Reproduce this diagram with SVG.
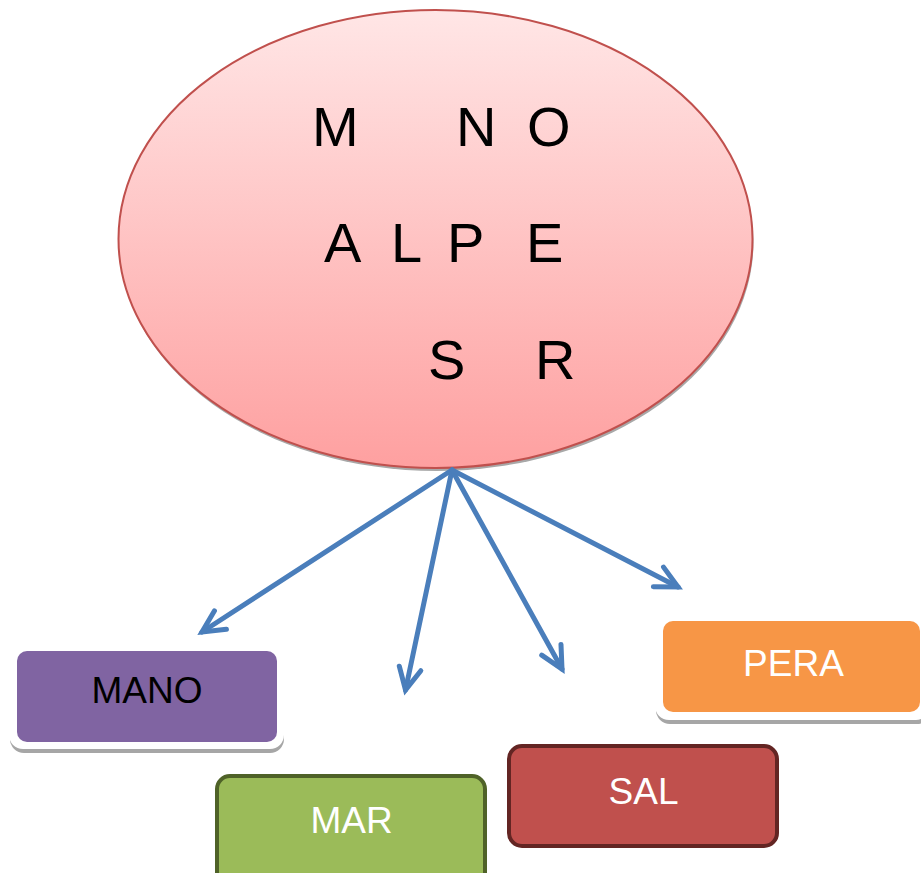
<svg xmlns="http://www.w3.org/2000/svg" width="921" height="873" viewBox="0 0 921 873">
  <defs>
    <linearGradient id="pink" x1="0" y1="0" x2="0" y2="1">
      <stop offset="0" stop-color="#FFE6E6"/>
      <stop offset="1" stop-color="#FEA0A0"/>
    </linearGradient>
    <marker id="arr" markerUnits="userSpaceOnUse" markerWidth="40" markerHeight="40" viewBox="-30 -20 40 40" refX="0" refY="0" orient="auto" overflow="visible">
      <path d="M-22,-11 L0,0 L-22,11" fill="none" stroke="#4A7EBB" stroke-width="5" stroke-linecap="round" stroke-linejoin="miter"/>
    </marker>
    <style>
      .big { font-family: "Liberation Sans", Arial, sans-serif; font-size: 56px; fill: #000; }
      .lbl { font-family: "Liberation Sans", Arial, sans-serif; font-size: 37px; text-anchor: middle; }
      .conn { stroke: #4A7EBB; stroke-width: 5; fill: none; stroke-linecap: round; marker-end: url(#arr); }
      .shadow { fill: #A6A6A6; }
      .halo { fill: #FFFFFF; }
    </style>
  </defs>

  <g id="center">
    <ellipse cx="436.5" cy="242" rx="317" ry="229" fill="#A8A8A8"/>
    <ellipse cx="435.5" cy="239" rx="317" ry="229" fill="url(#pink)" stroke="#C0504D" stroke-width="2"/>
    <text class="big" x="312" y="146">M</text>
    <text class="big" x="456" y="146">N</text>
    <text class="big" x="527" y="146">O</text>
    <text class="big" x="324" y="262">A</text>
    <text class="big" x="391" y="262">L</text>
    <text class="big" x="447" y="262">P</text>
    <text class="big" x="526" y="262">E</text>
    <text class="big" x="428" y="379">S</text>
    <text class="big" x="535" y="379">R</text>
  </g>

  <g id="connectors">
    <line class="conn" x1="452" y1="470" x2="202" y2="632"/>
    <line class="conn" x1="452" y1="470" x2="405.5" y2="690"/>
    <line class="conn" x1="452" y1="470" x2="562" y2="669"/>
    <line class="conn" x1="452" y1="470" x2="678" y2="587"/>
  </g>

  <g id="mano">
    <rect class="shadow" x="10" y="652" width="274" height="101" rx="14"/>
    <rect class="halo" x="9" y="644" width="275" height="105" rx="14"/>
    <rect x="17" y="651" width="260" height="91" rx="10" fill="#8064A2"/>
    <text class="lbl" x="147" y="703" fill="#000000">MANO</text>
  </g>

  <g id="mar">
    <rect x="217" y="776" width="268" height="112" rx="13" fill="#9BBB59" stroke="#4F6228" stroke-width="4"/>
    <text class="lbl" x="351.5" y="833" fill="#FFFFFF">MAR</text>
  </g>

  <g id="sal">
    <rect x="509" y="746" width="268" height="100" rx="13" fill="#C0504D" stroke="#632523" stroke-width="4"/>
    <text class="lbl" x="643.5" y="804" fill="#FFFFFF">SAL</text>
  </g>

  <g id="pera">
    <rect class="shadow" x="656" y="622" width="275" height="102" rx="14"/>
    <rect class="halo" x="655" y="614" width="275" height="106" rx="14"/>
    <rect x="663" y="621" width="257" height="91" rx="10" fill="#F79646"/>
    <text class="lbl" x="793.5" y="676" fill="#FFFFFF">PERA</text>
  </g>
</svg>
